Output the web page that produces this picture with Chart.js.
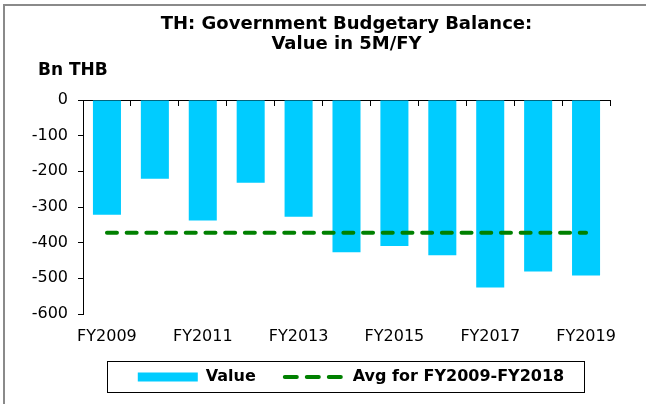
<!DOCTYPE html>
<html>
<head>
<meta charset="utf-8">
<script src="https://cdn.jsdelivr.net/npm/chart.js@4.4.0/dist/chart.umd.min.js"></script>
<style>
  html, body { margin: 0; padding: 0; background: #fff; overflow: hidden; }
  #wrap { position: absolute; left: 0; top: 0; width: 646px; height: 404px; }
</style>
</head>
<body>
<div id="wrap"><canvas id="canvas" width="646" height="404"></canvas></div>
<script>
// fiscal years (5 months of each FY)
var years = ['FY2009', 'FY2010', 'FY2011', 'FY2012', 'FY2013', 'FY2014',
             'FY2015', 'FY2016', 'FY2017', 'FY2018', 'FY2019'];
// budgetary balance, Bn THB
var balance = [-322, -221, -338, -232, -327, -427, -409, -435, -526, -481, -492];
// average FY2009-FY2018, drawn across all years
var average = [-372, -372, -372, -372, -372, -372, -372, -372, -372, -372, -372];
var yMin = -600;
var yMax = 0;
var yStep = 100;

var barColor = '#00CCFF';
var avgColor = '#008000';
var fontFam = 'DejaVu Sans';

// grey frame on the left and top, plus unit label above the y axis
var decor = {
  id: 'decor',
  beforeDraw: function(chart) {
    var c = chart.ctx;
    c.save();
    c.fillStyle = '#8a8a8a';
    c.fillRect(3, 4, 2, chart.height - 4);
    c.fillRect(3, 4, chart.width - 3, 2);
    c.restore();
  },
  afterDraw: function(chart) {
    var c = chart.ctx;
    c.save();
    c.fillStyle = '#000';
    c.font = 'bold 17px "DejaVu Sans"';
    c.textAlign = 'left';
    c.textBaseline = 'middle';
    c.fillText('Bn THB', 38, 71);
    c.restore();
  }
};

// nudge legend and draw the box round it
var legendFrame = {
  id: 'legendFrame',
  afterLayout: function(chart) {
    var lg = chart.legend;
    var dx = 4.5;
    lg.left += dx;
    lg.right += dx;
    lg.legendHitBoxes.forEach(function(hb) { hb.left += dx; });
  },
  afterDraw: function(chart) {
    var hb = chart.legend.legendHitBoxes;
    if (!hb || hb.length < 2) return;
    var c = chart.ctx;
    var x1 = Math.round(hb[0].left - 31) + 0.5;
    var x2 = Math.round(hb[1].left + hb[1].width + 20) + 0.5;
    var y1 = Math.round(hb[0].top - 8) + 0.5;
    var y2 = Math.round(hb[0].top + 23) + 0.5;
    c.save();
    c.strokeStyle = '#000';
    c.lineWidth = 1;
    c.strokeRect(x1, y1, x2 - x1, y2 - y1);
    c.restore();
  }
};

var ctx = document.getElementById('canvas').getContext('2d');
new Chart(ctx, {
  type: 'bar',
  data: {
    labels: years,
    datasets: [{
      type: 'bar',
      label: 'Value',
      data: balance,
      backgroundColor: barColor,
      barPercentage: 0.585,
      categoryPercentage: 1,
      order: 2
    }, {
      type: 'line',
      label: 'Avg for FY2009-FY2018',
      data: average,
      borderColor: avgColor,
      borderWidth: 4,
      borderDash: [10, 9.7],
      borderCapStyle: 'round',
      pointRadius: 0,
      fill: false,
      order: 1
    }]
  },
  options: {
    responsive: false,
    animation: false,
    devicePixelRatio: 1,
    layout: { padding: { left: 0, right: 36, top: 0, bottom: 9 } },
    scales: {
      x: {
        position: 'bottom',
        grid: { display: false },
        border: { display: false },
        ticks: {
          autoSkip: false,
          maxRotation: 0,
          padding: 5,
          color: '#000',
          font: { family: fontFam, size: 16 },
          callback: function(v, i) { return i % 2 === 0 ? this.getLabelForValue(v) : ''; }
        },
        afterFit: function(s) {
          s.height = 26;
          // labels may run past the short axis box
          s._computeLabelArea = function() { return undefined; };
        }
      },
      x2: {
        type: 'category',
        axis: 'x',
        labels: years,
        offset: true,
        position: { y: 0 },
        grid: { display: true, drawOnChartArea: false, drawTicks: true, tickLength: 5, offset: true, color: '#000' },
        border: { display: true, color: '#000', width: 1 },
        ticks: { display: false }
      },
      y: {
        min: yMin,
        max: yMax,
        ticks: { stepSize: yStep, padding: 10, color: '#000', font: { family: fontFam, size: 16 } },
        grid: { drawOnChartArea: false, drawTicks: true, tickLength: 5, color: '#000' },
        border: { display: true, color: '#000', width: 1 },
        afterFit: function(s) { s.width = 83; }
      }
    },
    plugins: {
      title: {
        display: true,
        fullSize: false,
        text: ['TH: Government Budgetary Balance:', 'Value in 5M/FY'],
        color: '#000',
        font: { family: fontFam, size: 18, weight: 'bold', lineHeight: '20px' },
        padding: { top: 14, bottom: 46 }
      },
      legend: {
        position: 'bottom',
        fullSize: false,
        labels: {
          usePointStyle: true,
          pointStyleWidth: 60,
          boxHeight: 9,
          padding: 29,
          color: '#000',
          font: { family: fontFam, size: 16, weight: 'bold' },
          generateLabels: function() {
            return [
              { text: 'Value', fillStyle: barColor, strokeStyle: barColor, lineWidth: 0, pointStyle: 'rect', datasetIndex: 0 },
              { text: 'Avg for FY2009-FY2018', fillStyle: avgColor, strokeStyle: avgColor, lineWidth: 4,
                lineDash: [12, 10], lineCap: 'round', pointStyle: 'line', datasetIndex: 1 }
            ];
          }
        }
      },
      tooltip: { enabled: false }
    }
  },
  plugins: [decor, legendFrame]
});
</script>
</body>
</html>
